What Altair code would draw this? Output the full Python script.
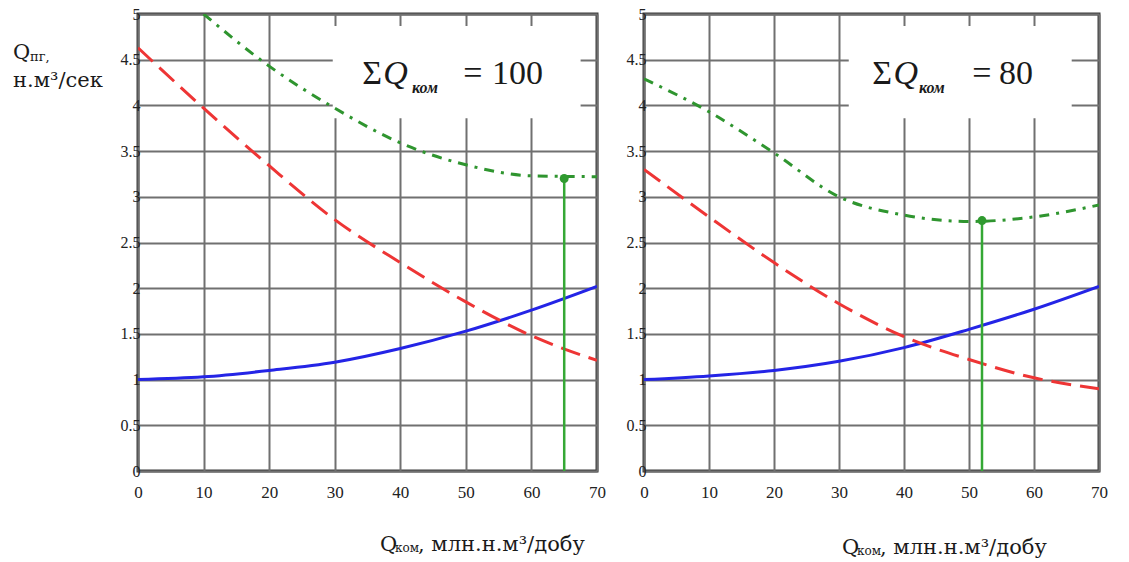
import altair as alt
import pandas as pd

# Commercial gas flow Q_ком (mln n.m3/day) at the sampled points
q_kom = [0, 10, 20, 30, 40, 50, 60, 70]
q_kom_green_100 = [10, 20, 30, 40, 50, 60, 70]
x_ticks = [0, 10, 20, 30, 40, 50, 60, 70]
y_ticks = [0, 0.5, 1, 1.5, 2, 2.5, 3, 3.5, 4, 4.5, 5]

# Panel ΣQ_ком = 100
blue_100 = [1.00, 1.03, 1.10, 1.19, 1.34, 1.53, 1.76, 2.02]
red_100 = [4.63, 3.97, 3.34, 2.75, 2.28, 1.85, 1.48, 1.21]
green_100 = [5.00, 4.43, 3.97, 3.59, 3.35, 3.23, 3.22]
opt_100 = (65, 3.20)

# Panel ΣQ_ком = 80
blue_80 = [1.00, 1.04, 1.10, 1.20, 1.35, 1.55, 1.77, 2.02]
red_80 = [3.30, 2.78, 2.28, 1.83, 1.47, 1.22, 1.02, 0.90]
green_80 = [4.29, 3.93, 3.48, 3.00, 2.80, 2.73, 2.78, 2.91]
opt_80 = (52, 2.74)

SERIF = "Liberation Serif"
WIDE_SERIF = "DejaVu Serif"
H = 457


def xenc():
    return alt.X(
        "x:Q",
        scale=alt.Scale(domain=[0, 70], nice=False, zero=False),
        axis=alt.Axis(values=x_ticks, title=None, format="d"),
    )


def yenc():
    return alt.Y(
        "y:Q",
        scale=alt.Scale(domain=[0, 5], nice=False, zero=False),
        axis=alt.Axis(values=y_ticks, title=None, format="~g"),
    )


def line_df(xs, ys):
    return pd.DataFrame({"x": xs, "y": ys})


def panel(blue, red, gx, green, opt, box, total, ann_x, label_pos):
    X = xenc()
    Y = yenc()

    # white box behind the ΣQ annotation
    box_df = pd.DataFrame({"x": [box[0]], "x2": [box[1]], "y": [box[2]], "y2": [box[3]]})
    box_layer = alt.Chart(box_df).mark_rect(color="white").encode(
        x=X, x2="x2:Q", y=Y, y2="y2:Q"
    )

    blue_layer = alt.Chart(line_df(q_kom, blue)).mark_line(
        color="#2424e6", strokeWidth=3, interpolate="monotone", clip=True
    ).encode(x=X, y=Y)
    red_layer = alt.Chart(line_df(q_kom, red)).mark_line(
        color="#ee3535", strokeWidth=3, strokeDash=[20, 9], interpolate="monotone", clip=True
    ).encode(x=X, y=Y)
    green_layer = alt.Chart(line_df(gx, green)).mark_line(
        color="#2f952f", strokeWidth=3, strokeDash=[10, 7, 3, 7], interpolate="monotone", clip=True
    ).encode(x=X, y=Y)

    # optimum: vertical drop line from the minimum point to the x axis, plus marker
    opt_df = pd.DataFrame({"x": [opt[0]], "y": [opt[1]], "y0": [0.0]})
    rule_layer = alt.Chart(opt_df).mark_rule(color="#35a835", strokeWidth=2.5).encode(
        x=X, y=Y, y2="y0:Q"
    )
    point_layer = alt.Chart(opt_df).mark_circle(color="#2f9a2f", size=80, opacity=1).encode(x=X, y=Y)

    # ΣQ_ком = N annotation, placed in data coordinates
    base_y = 4.234
    sub_y = 4.136
    ann = pd.DataFrame({
        "x": [ann_x[0], ann_x[1], ann_x[3], ann_x[4]],
        "y": [base_y] * 4,
        "t": ["Σ", "Q", "=", str(total)],
        "s": ["normal", "italic", "normal", "normal"],
    })
    ann_upright = alt.Chart(ann[ann.s == "normal"]).mark_text(
        font=SERIF, fontSize=34, align="left", baseline="alphabetic", color="#1a1a1a"
    ).encode(x=X, y=Y, text="t:N")
    ann_italic = alt.Chart(ann[ann.s == "italic"]).mark_text(
        font=SERIF, fontSize=34, fontStyle="italic", align="left", baseline="alphabetic", color="#1a1a1a"
    ).encode(x=X, y=Y, text="t:N")
    sub = pd.DataFrame({"x": [ann_x[2]], "y": [sub_y], "t": ["ком"]})
    ann_sub = alt.Chart(sub).mark_text(
        font=SERIF, fontSize=16, fontStyle="italic", fontWeight="bold", align="left",
        baseline="alphabetic", color="#1a1a1a"
    ).encode(x=X, y=Y, text="t:N")

    # x-axis caption below the panel: Q_ком, млн.н.м³/добу
    lx, ly = label_pos
    cap_q = alt.Chart(pd.DataFrame({"t": ["Q"]})).mark_text(
        font=WIDE_SERIF, fontSize=21, align="left", baseline="alphabetic", color="#1a1a1a"
    ).encode(x=alt.value(lx), y=alt.value(ly), text="t:N")
    cap_sub = alt.Chart(pd.DataFrame({"t": ["ком"]})).mark_text(
        font=WIDE_SERIF, fontSize=12, align="left", baseline="alphabetic", color="#1a1a1a"
    ).encode(x=alt.value(lx + 15), y=alt.value(ly + 1), text="t:N")
    cap_rest = alt.Chart(pd.DataFrame({"t": [", млн.н.м³/добу"]})).mark_text(
        font=WIDE_SERIF, fontSize=21, align="left", baseline="alphabetic", color="#1a1a1a"
    ).encode(x=alt.value(lx + 38), y=alt.value(ly), text="t:N")

    return [box_layer, blue_layer, red_layer, green_layer, rule_layer, point_layer,
            ann_upright, ann_italic, ann_sub, cap_q, cap_sub, cap_rest]


left_layers = panel(
    blue_100, red_100, q_kom_green_100, green_100, opt_100,
    box=(29.7, 67.5, 3.86, 4.87), total=100,
    ann_x=(34.2, 37.4, 41.8, 49.6, 54.0), label_pos=(242, 537),
)

# y-axis caption at top left: Q_пг, н.м³/сек
ylab_q = alt.Chart(pd.DataFrame({"t": ["Q"]})).mark_text(
    font=WIDE_SERIF, fontSize=21, align="left", baseline="alphabetic", color="#1a1a1a"
).encode(x=alt.value(-125), y=alt.value(45), text="t:N")
ylab_sub = alt.Chart(pd.DataFrame({"t": ["пг,"]})).mark_text(
    font=WIDE_SERIF, fontSize=13, align="left", baseline="alphabetic", color="#1a1a1a"
).encode(x=alt.value(-108), y=alt.value(47), text="t:N")
ylab_unit = alt.Chart(pd.DataFrame({"t": ["н.м³/сек"]})).mark_text(
    font=WIDE_SERIF, fontSize=21, align="left", baseline="alphabetic", color="#1a1a1a"
).encode(x=alt.value(-125), y=alt.value(73), text="t:N")

left = alt.layer(*left_layers, ylab_q, ylab_sub, ylab_unit).properties(width=459, height=H)

right_layers = panel(
    blue_80, red_80, q_kom, green_80, opt_80,
    box=(31.5, 65.8, 3.86, 4.87), total=80,
    ann_x=(35.1, 38.4, 42.3, 50.5, 54.6), label_pos=(198, 540),
)
right = alt.layer(*right_layers).properties(width=455, height=H)

chart = (
    alt.hconcat(left, right, spacing=47, bounds="flush")
    .properties(
        padding={"left": 11, "top": 4, "right": 5, "bottom": 2},
        background="white",
    )
    .configure_view(stroke="#3c3c3c", strokeWidth=3)
    .configure_axis(
        grid=True, gridColor="#707070", gridWidth=2, gridOpacity=1,
        domain=False, ticks=False, tickSize=0,
        labelFont=SERIF, labelColor="#222", labelFlush=False,
    )
    .configure_axisX(labelFontSize=17, labelPadding=13)
    .configure_axisY(labelFontSize=16, labelPadding=-2)
)

chart.save("out.html", embed_options={"renderer": "svg", "actions": False})
